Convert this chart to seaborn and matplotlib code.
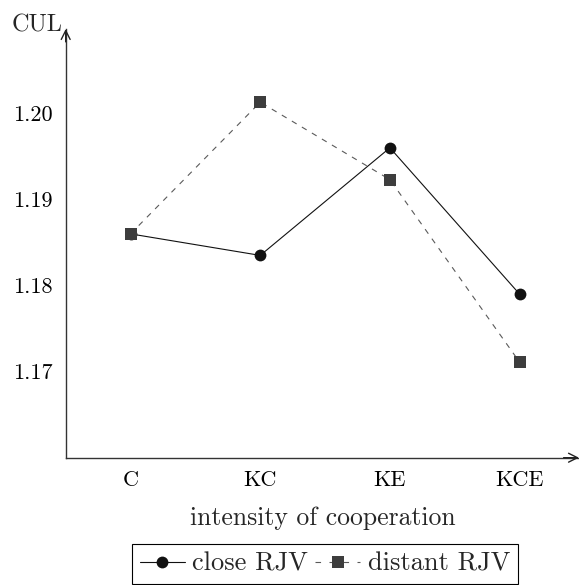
import matplotlib
matplotlib.use('Agg')
import matplotlib.pyplot as plt
import matplotlib.ticker as mticker
import seaborn as sns
import pandas as pd

categories = ['C', 'KC', 'KE', 'KCE']
close_rjv = [1.1860, 1.1835, 1.1960, 1.1790]
distant_rjv = [1.1860, 1.2013, 1.1923, 1.1711]
series_names = ['close RJV', 'distant RJV']
y_ticks = [1.17, 1.18, 1.19, 1.20]

df = pd.DataFrame({
    'cat': categories * 2,
    'val': close_rjv + distant_rjv,
    'series': [series_names[0]] * 4 + [series_names[1]] * 4,
})

sns.set_style('white')
plt.rcParams['font.family'] = ['cmr10', 'DejaVu Serif']
plt.rcParams['axes.formatter.use_mathtext'] = True
plt.rcParams['font.size'] = 16

W, H = 579, 585
fig = plt.figure(figsize=(W / 100, H / 100), dpi=100)
ax = fig.add_axes([65.7 / W, (H - 457.7) / H, (W - 65.7) / W, (457.7 - 29) / H])

sns.lineplot(data=df, x='cat', y='val', hue='series', style='series',
             palette={'close RJV': '#111111', 'distant RJV': '#5a5a5a'},
             markers={'close RJV': 'o', 'distant RJV': 's'},
             dashes={'close RJV': '', 'distant RJV': (5, 5.5)},
             linewidth=0.8, markersize=8.5, markeredgewidth=0, ax=ax)

# marker colors a touch darker than the dashed line
for line in ax.get_lines():
    if line.get_marker() == 's':
        line.set_markerfacecolor('#3d3d3d')

ax.set_xlim(-0.5, 3.458)
ax.set_ylim(1.16, 1.2098)
ax.set_yticks(y_ticks)
ax.yaxis.set_major_formatter(mticker.FormatStrFormatter('%.2f'))
ax.set_xlabel('intensity of cooperation', fontsize=18.5, labelpad=12)
ax.set_ylabel('')

for s in ['top', 'right']:
    ax.spines[s].set_visible(False)
for s in ['left', 'bottom']:
    ax.spines[s].set_color('#333333')
    ax.spines[s].set_linewidth(1.0)

ax.tick_params(axis='both', direction='inout', length=8.5, width=0.7,
               color='#999999', labelcolor='black', labelsize=16)
ax.tick_params(axis='x', pad=5)
ax.tick_params(axis='y', pad=5)

# axis arrows
ax.annotate('', xy=(1, 0), xytext=(0.97, 0), xycoords='axes fraction',
            arrowprops=dict(arrowstyle='->', color='#222222', lw=1.0,
                            shrinkA=0, shrinkB=0), annotation_clip=False)
ax.annotate('', xy=(0, 1), xytext=(0, 0.97), xycoords='axes fraction',
            arrowprops=dict(arrowstyle='->', color='#222222', lw=1.0,
                            shrinkA=0, shrinkB=0), annotation_clip=False)

fig.text(12 / W, (H - 25) / H, 'CUL', ha='left', va='center', fontsize=17.5)

sns.move_legend(ax, 'upper center', bbox_to_anchor=(325 / W, (H - 544.3) / H),
                bbox_transform=fig.transFigure, ncol=2, title=None,
                frameon=True, fancybox=False, edgecolor='black',
                framealpha=1, handlelength=1.7, handletextpad=0.28,
                columnspacing=0.28, borderpad=0.3, borderaxespad=0,
                fontsize=19)
leg = ax.get_legend()
leg.get_frame().set_linewidth(0.8)
for h in leg.legend_handles:
    h.set_markersize(8.5)
    h.set_linewidth(0.8)
    if h.get_marker() == 's':
        h.set_markerfacecolor('#3d3d3d')
        h.set_linestyle((0, (5, 7.6)))

fig.savefig('out.png', dpi=100)
